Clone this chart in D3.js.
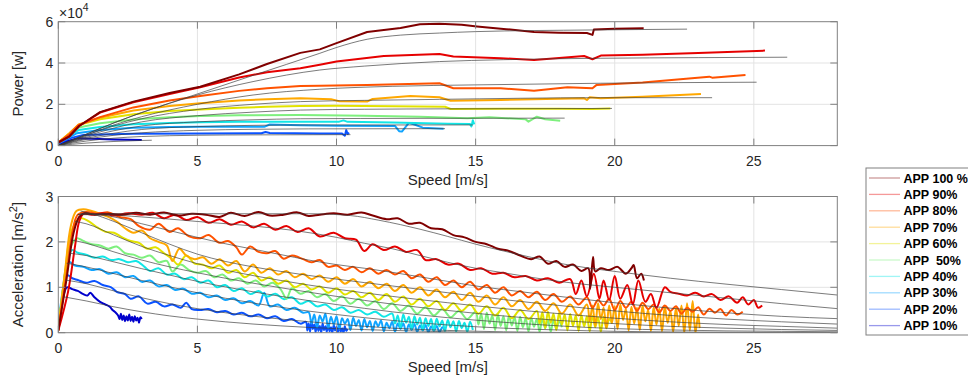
<!DOCTYPE html>
<html>
<head>
<meta charset="utf-8">
<script src="https://cdnjs.cloudflare.com/ajax/libs/d3/7.8.5/d3.min.js"></script>
<style>
  html, body { margin: 0; padding: 0; background: #fff; }
  svg { display: block; font-family: "Liberation Sans", Arial, Helvetica, sans-serif; }
</style>
</head>
<body>
<div id="chart"></div>
<script>
// ---- data ----
const appLabels = ["APP 100 %", "APP 90%", "APP 80%", "APP 70%", "APP 60%", "APP  50%", "APP 40%", "APP 30%", "APP 20%", "APP 10%"]
const appColors = ["#800000", "#e60000", "#ff5200", "#ffa800", "#e2e200", "#7ef07e", "#12e6e6", "#10a4ff", "#0a52ff", "#0000cc"]

const speedTicks = [0, 5, 10, 15, 20, 25]
const powerTicks = [0, 20000, 40000, 60000]
const accelTicks = [0, 1, 2, 3]

// measured power [W] vs speed [m/s]
const powerApp100 = [[0,1500],[0.4,4500],[0.75,9500],[1.5,16200],[2.7,21300],[4,25500],[5.1,28500],[6.5,34500],[7.5,39500],[8.7,44900],[9.4,46600],[10,49600],[11.1,55000],[12.3,56900],[13,58800],[13.7,59000],[14.5,58500],[15.05,57700],[16.1,56400],[17.1,55000],[18,54700],[19,54500],[19.2,53600],[19.25,56200],[20,56600],[21.04,56800]]
const powerApp90 = [[0,1500],[0.4,4500],[0.75,9500],[1.5,16000],[2.7,21000],[4,25000],[5.1,28300],[6.5,33000],[7.5,35500],[8.7,37500],[9.4,39200],[10,40700],[11.7,43400],[13.7,44400],[14.2,43100],[15.9,42300],[17.1,41500],[18.9,43400],[19.2,41800],[19.5,43600],[21,44000],[23,44800],[25.4,46000]]
const powerApp80 = [[0,1500],[0.4,5500],[0.73,10000],[1.5,13800],[2.7,18500],[4,21800],[5.1,24000],[6.5,26500],[7.5,27800],[8.7,28900],[9.4,29000],[11.1,29400],[13.7,30200],[14.2,27800],[15.9,27800],[17.1,26600],[18.3,28300],[19.2,27800],[19.35,29400],[21,30500],[23.4,33400],[23.5,32900],[24.7,34200]]
const powerApp70 = [[0,1500],[0.4,6000],[0.73,10200],[1.5,13500],[2.7,17000],[4,19200],[5.1,20500],[6.5,21800],[7.5,22500],[8.7,22900],[9.8,22500],[10.1,21500],[11.1,21300],[11.3,22600],[12.65,24000],[13.7,23400],[14.1,21700],[15.9,22100],[18.9,22900],[19,22100],[19.1,23400],[19.5,22900],[21,23600],[23.1,25000]]
const powerApp60 = [[0,1500],[0.4,6000],[0.73,10000],[1.5,12800],[2.7,15200],[4,16800],[5.1,17500],[6.5,18300],[7.5,18800],[8.7,19200],[10,19300],[12,19100],[13.9,18800],[14.1,17700],[16,17800],[18,17900],[19.2,17700],[19.84,18000]]
const powerApp50 = [[0,1500],[0.4,5500],[0.73,8800],[1.5,10800],[2.7,12600],[4,13700],[5.1,14300],[6.5,14700],[8.7,14800],[11,14500],[13,14000],[14.7,13200],[15.5,13700],[16.8,12700],[16.9,11600],[17.2,14000],[17.5,12800],[18.04,12000]]
const powerApp40 = [[0,1500],[0.4,5000],[0.73,7500],[1.5,9000],[2.7,10300],[4,11000],[5.1,11300],[6.5,11500],[8.7,11600],[10.1,11600],[10.25,12200],[10.4,11500],[12,11200],[14,10600],[14.8,10400],[14.85,9300],[14.9,12300],[14.95,10300]]
const powerApp30 = [[0,1200],[0.4,4000],[0.67,6000],[1.5,7500],[2.7,8600],[4,9000],[5.1,9100],[7.4,9100],[7.6,10200],[8.7,9800],[10,9600],[12.1,9500],[12.25,7000],[12.35,6800],[12.45,8500],[12.6,11000],[12.8,10200],[13.1,8700],[13.85,8200]]
const powerApp20 = [[0,1000],[0.4,3500],[0.9,5100],[1.5,5400],[2.7,5700],[5.1,5900],[7.3,6000],[7.45,6600],[7.6,6100],[9.4,5900],[10.2,5800],[10.3,4800],[10.35,7500],[10.4,5600],[10.45,6300]]
const powerApp10 = [[0,800],[0.4,2500],[0.67,3500],[1.2,3300],[2,3000],[3,2700]]

// model power [W] vs speed [m/s]
const powerModel100 = [[0,0],[1,5500],[2,11000],[3,16000],[5,25000],[7,34000],[9.4,44700],[10,47500],[11.1,51500],[12.3,53500],[13.7,54500],[15,55200],[19.2,56000],[22.6,56400]]
const powerModel90 = [[0,0],[1,5500],[2,11000],[3,16000],[5,24500],[7,31000],[9.4,36600],[11,38500],[13.7,40700],[16,41600],[19.5,42300],[23,42600],[26.2,42800]]
const powerModel80 = [[0,0],[1,5000],[2,10000],[3,14000],[5,20000],[7,24500],[9.4,27300],[12,28700],[15,29400],[19.5,30200],[25.1,30700]]
const powerModel70 = [[0,0],[1,5000],[2,9500],[3,13000],[5,17500],[7,20000],[8.7,21300],[11,21900],[13.7,22400],[19.5,23200],[23.5,23200]]
const powerModel60 = [[0,0],[1,4500],[2,8500],[3,11500],[5,14500],[7,16200],[8.7,17200],[11,17600],[14,17800],[19.9,18000]]
const powerModel50 = [[0,0],[1,4000],[2,7200],[3,9500],[5,11500],[7,12500],[8.7,13000],[13,13200],[18.2,13300]]
const powerModel40 = [[0,0],[1,3500],[2,6000],[3,7800],[5,9200],[7,9800],[9,10000],[14.9,10000]]
const powerModel30 = [[0,0],[1,3000],[2,5000],[3,6200],[5,7400],[7,7900],[9,8100],[13.9,8200]]
const powerModel20 = [[0,0],[1,2200],[2,3600],[3,4400],[5,5000],[7,5200],[10.5,5300]]
const powerModel10 = [[0,0],[1,1200],[2,2000],[3,2500],[3.36,2600]]

// measured acceleration [m/s^2] vs speed [m/s]
const accelApp100 = [[0,0.05],[0.3,1.2],[0.55,2.2],[0.75,2.55],[0.95,2.63],[1.3,2.6],[1.8,2.62],[2.3,2.6],[2.8,2.64],[3.3,2.6],[3.8,2.65],[4.3,2.58],[4.8,2.62],[5.3,2.6],[5.8,2.55],[6.2,2.64],[6.7,2.57],[7.2,2.66],[7.6,2.58],[8.1,2.6],[8.6,2.65],[9,2.57],[9.4,2.6],[9.9,2.63],[10.4,2.6],[10.9,2.65],[11.3,2.58],[11.8,2.5],[12.2,2.52],[12.6,2.4],[13,2.42],[13.4,2.3],[13.8,2.28],[14.2,2.15],[14.6,2.1],[15,2],[15.4,1.95],[15.8,1.85],[16.2,1.8],[16.6,1.7],[17,1.62],[17.3,1.68],[17.6,1.52],[17.9,1.58],[18.2,1.45],[18.5,1.5],[18.8,1.36],[19.05,1.42],[19.12,0.97],[19.22,1.67],[19.3,1.35],[19.5,1.42],[19.8,1.38],[20.1,1.45],[20.4,1.3],[20.6,1.42],[20.68,1.49],[20.8,1.2],[20.95,1.3],[21.05,1.15]]
const accelApp90 = [[0,0.05],[0.35,0.9],[0.6,1.9],[0.75,2.45],[0.9,2.62],[1.2,2.6],[1.6,2.63],[2,2.58],[2.5,2.63],[3,2.6],[3.4,2.64],[3.8,2.52],[4.2,2.6],[4.6,2.48],[5,2.55],[5.4,2.42],[5.8,2.5],[6.2,2.38],[6.6,2.45],[7,2.32],[7.4,2.4],[7.8,2.27],[8.2,2.35],[8.6,2.22],[9,2.3],[9.4,2.12],[9.9,2.2],[10.3,2.08],[10.7,2.05],[11,1.8],[11.3,1.95],[11.7,1.82],[12.1,1.9],[12.5,1.78],[12.9,1.82],[13.2,1.6],[13.6,1.62],[14,1.5],[14.4,1.52],[14.8,1.38],[15.2,1.42],[15.6,1.3],[16,1.32],[16.4,1.22],[16.8,1.25],[17.2,1.15],[17.6,1.2],[18,1.1],[18.4,1.18],[18.6,0.85],[18.8,1.15],[19,0.8],[19.25,1.3],[19.45,0.75],[19.6,1.15],[19.8,0.72],[20,1.25],[20.2,0.75],[20.45,1.05],[20.65,0.62],[20.85,1.15],[21.1,0.68],[21.3,0.85],[21.5,0.55],[21.8,1],[22,0.9],[22.3,0.86],[22.6,0.82],[22.9,0.88],[23.2,0.8],[23.5,0.85],[23.8,0.72],[24.1,0.8],[24.4,0.66],[24.6,0.78],[24.8,0.62],[25,0.72],[25.15,0.55],[25.3,0.6]]
const accelApp80 = [[0,0.05],[0.3,1.3],[0.5,2.2],[0.7,2.6],[1,2.66],[1.4,2.62],[1.8,2.65],[2.2,2.55],[2.6,2.5],[2.9,2.35],[3.3,2.27],[3.6,2.4],[4,2.22],[4.3,2.3],[4.7,2.12],[5.1,2.08],[5.4,2.15],[5.8,1.98],[6.1,2.02],[6.4,1.88],[6.6,1.72],[6.9,1.9],[7.2,1.78],[7.5,1.75],[7.8,1.8],[8.1,1.63],[8.4,1.7],[8.8,1.62],[9.1,1.55],[9.4,1.6],[9.7,1.45],[10,1.48],[10.3,1.38],[10.6,1.45],[10.9,1.33],[11.2,1.42],[11.5,1.3],[11.8,1.38],[12.1,1.28],[12.4,1.36],[12.7,1.2],[13,1.28],[13.3,1.12],[13.6,1.22],[13.9,1.05],[14.2,1.15],[14.5,1],[14.8,1.12],[15.1,0.95],[15.4,1.05],[15.7,0.88],[16,1],[16.3,0.82],[16.6,0.92],[16.9,0.78],[17.2,0.9],[17.5,0.72],[17.8,0.85],[18.1,0.68],[18.4,0.8],[18.7,0.62],[19,0.78],[19.2,0.55],[19.4,0.72],[19.6,0.6],[19.8,0.75],[20,0.5],[20.2,0.7],[20.4,0.55],[20.6,0.68],[20.8,0.48],[21,0.66],[21.2,0.52],[21.4,0.62],[21.6,0.45],[21.8,0.6],[22,0.48],[22.2,0.58],[22.4,0.42],[22.6,0.55],[22.8,0.46],[23,0.56],[23.2,0.4],[23.4,0.53],[23.6,0.44],[23.8,0.52],[24,0.38],[24.2,0.5],[24.4,0.4],[24.6,0.46]]
const accelApp70 = [[0,0.05],[0.25,1.4],[0.45,2.35],[0.65,2.68],[0.9,2.72],[1.2,2.68],[1.5,2.62],[1.8,2.55],[2.1,2.45],[2.4,2.3],[2.7,2.2],[3,2.25],[3.3,2.08],[3.6,2],[3.9,1.92],[4.1,1.58],[4.35,1.85],[4.6,1.7],[4.9,1.62],[5.2,1.66],[5.5,1.52],[5.8,1.62],[6.1,1.48],[6.4,1.58],[6.7,1.35],[7,1.5],[7.3,1.32],[7.6,1.42],[7.9,1.28],[8.2,1.36],[8.5,1.22],[8.8,1.3],[9.1,1.18],[9.4,1.26],[9.7,1.12],[10,1.22],[10.3,1.08],[10.6,1.18],[10.9,1.02],[11.2,1.12],[11.5,0.98],[11.8,1.08],[12.1,0.92],[12.4,1.05],[12.7,0.88],[13,1],[13.3,0.82],[13.6,0.95],[13.9,0.78],[14.2,0.9],[14.5,0.72],[14.8,0.88],[15.1,0.68],[15.4,0.82],[15.7,0.62],[16,0.78],[16.3,0.58],[16.6,0.72],[16.9,0.52],[17.2,0.68],[17.5,0.48],[17.8,0.65],[18.1,0.42],[18.4,0.62],[18.7,0.38],[19,0.62],[19.1,0.25],[19.2,0.6],[19.3,0.15],[19.4,0.65],[19.5,0.3],[19.6,0.55],[19.7,0.1],[19.8,0.6],[19.9,0.22],[20,0.58],[20.1,0.08],[20.2,0.62],[20.3,0.28],[20.4,0.52],[20.5,0.05],[20.6,0.57],[20.7,0.2],[20.8,0.55],[20.9,0.06],[21,0.6],[21.1,0.25],[21.2,0.5],[21.3,0.04],[21.4,0.56],[21.5,0.18],[21.6,0.53],[21.7,0.03],[21.8,0.58],[21.9,0.22],[22,0.48],[22.1,0.02],[22.2,0.55],[22.3,0.15],[22.4,0.6],[22.5,0],[22.6,0.65],[22.7,0.05],[22.8,0.7],[22.9,0],[23,0.4],[23.05,0.1]]
const accelApp60 = [[0,0.05],[0.25,1.35],[0.45,2.2],[0.7,2.48],[0.85,2.52],[1.1,2.45],[1.4,2.32],[1.7,2.22],[2,2.2],[2.3,2.1],[2.6,2.02],[2.9,1.98],[3.2,1.85],[3.5,1.88],[3.8,1.75],[4.1,1.62],[4.3,1.5],[4.6,1.7],[4.9,1.52],[5.2,1.5],[5.5,1.42],[5.8,1.48],[6.1,1.32],[6.4,1.38],[6.7,1.22],[7,1.32],[7.3,1.15],[7.6,1.22],[7.9,1.08],[8.2,1.15],[8.5,1],[8.8,1.08],[9.1,0.95],[9.4,1.02],[9.7,0.88],[10,0.98],[10.3,0.84],[10.6,0.92],[10.9,0.78],[11.2,0.88],[11.5,0.72],[11.8,0.85],[12.1,0.68],[12.4,0.8],[12.7,0.62],[13,0.75],[13.3,0.58],[13.6,0.7],[13.9,0.5],[14.2,0.65],[14.5,0.48],[14.8,0.62],[15.1,0.42],[15.4,0.58],[15.7,0.38],[16,0.55],[16.3,0.32],[16.6,0.5],[16.9,0.3],[17.2,0.48],[17.3,0.2],[17.4,0.45],[17.5,0.1],[17.6,0.46],[17.7,0.22],[17.8,0.42],[17.9,0.06],[18,0.44],[18.1,0.18],[18.2,0.4],[18.3,0.05],[18.4,0.41],[18.5,0.15],[18.6,0.38],[18.7,0.04],[18.8,0.39],[18.9,0.14],[19,0.36],[19.1,0.03],[19.2,0.37],[19.3,0.12],[19.4,0.34],[19.5,0.02],[19.6,0.35],[19.7,0.1],[19.8,0.3],[19.9,0.2]]
const accelApp50 = [[0,0.05],[0.2,1.1],[0.45,1.9],[0.67,2.08],[0.9,2.02],[1.2,1.95],[1.5,1.92],[1.8,1.85],[2.1,1.9],[2.4,1.75],[2.7,1.72],[3,1.65],[3.3,1.7],[3.6,1.55],[3.9,1.58],[4.1,1.35],[4.4,1.5],[4.7,1.38],[5,1.32],[5.3,1.36],[5.6,1.22],[5.9,1.28],[6.2,1.15],[6.5,1.2],[6.8,1.08],[7.1,1.15],[7.4,1.02],[7.7,1.1],[8,0.95],[8.2,0.75],[8.4,0.98],[8.7,0.86],[9,0.92],[9.3,0.78],[9.6,0.85],[9.9,0.7],[10.2,0.8],[10.5,0.64],[10.8,0.75],[11.1,0.6],[11.4,0.7],[11.7,0.52],[12,0.65],[12.3,0.48],[12.6,0.6],[12.9,0.42],[13.2,0.56],[13.5,0.38],[13.8,0.52],[14.1,0.34],[14.4,0.48],[14.7,0.3],[15,0.46],[15.1,0.18],[15.2,0.42],[15.3,0.08],[15.4,0.44],[15.5,0.2],[15.6,0.38],[15.7,0.06],[15.8,0.4],[15.9,0.15],[16,0.36],[16.1,0.05],[16.2,0.38],[16.3,0.16],[16.4,0.34],[16.5,0.04],[16.6,0.35],[16.7,0.12],[16.8,0.32],[16.9,0.03],[17,0.33],[17.1,0.13],[17.2,0.3],[17.3,0.02],[17.4,0.31],[17.5,0.1],[17.6,0.28],[17.7,0.02],[17.8,0.29],[17.9,0.08],[18,0.25],[18.1,0.12]]
const accelApp40 = [[0,0.1],[0.2,1],[0.49,1.82],[0.7,1.76],[1,1.72],[1.3,1.65],[1.6,1.68],[1.9,1.6],[2.2,1.62],[2.5,1.55],[2.8,1.58],[3.1,1.45],[3.3,1.36],[3.6,1.42],[3.9,1.28],[4.2,1.3],[4.5,1.18],[4.8,1.22],[5.1,1.1],[5.4,1.15],[5.7,1],[6,1.05],[6.3,0.92],[6.6,0.98],[6.9,0.85],[7.2,0.92],[7.5,0.8],[7.8,0.86],[8.1,0.74],[8.4,0.78],[8.7,0.64],[9,0.7],[9.3,0.58],[9.6,0.62],[9.9,0.5],[10.2,0.56],[10.5,0.44],[10.8,0.5],[11.1,0.4],[11.4,0.46],[11.7,0.35],[12,0.42],[12.1,0.2],[12.2,0.38],[12.3,0.1],[12.4,0.4],[12.5,0.22],[12.6,0.35],[12.7,0.08],[12.8,0.36],[12.9,0.18],[13,0.33],[13.1,0.06],[13.2,0.32],[13.3,0.15],[13.4,0.3],[13.5,0.05],[13.6,0.31],[13.7,0.14],[13.8,0.27],[13.9,0.04],[14,0.28],[14.1,0.12],[14.2,0.25],[14.3,0.03],[14.4,0.26],[14.5,0.1],[14.6,0.22],[14.7,0.02],[14.8,0.24],[14.9,0.06]]
const accelApp30 = [[0,0.1],[0.15,0.9],[0.37,1.56],[0.6,1.48],[0.9,1.45],[1.2,1.38],[1.5,1.4],[1.8,1.3],[2.1,1.33],[2.4,1.22],[2.7,1.25],[3,1.12],[3.3,1.15],[3.6,1.02],[3.9,1.05],[4.2,0.94],[4.5,0.97],[4.8,0.86],[5.1,0.88],[5.4,0.78],[5.7,0.82],[6,0.72],[6.3,0.76],[6.6,0.65],[6.9,0.7],[7.2,0.6],[7.4,0.88],[7.6,0.58],[7.9,0.62],[8.2,0.5],[8.5,0.55],[8.8,0.44],[9,0.45],[9.1,0.2],[9.2,0.4],[9.3,0.12],[9.4,0.38],[9.5,0.25],[9.6,0.42],[9.7,0.1],[9.8,0.35],[9.9,0.18],[10,0.36],[10.1,0.08],[10.2,0.32],[10.3,0.2],[10.4,0.3],[10.5,0.06],[10.6,0.33],[10.7,0.15],[10.8,0.28],[10.9,0.05],[11,0.3],[11.1,0.12],[11.2,0.26],[11.3,0.04],[11.4,0.25],[11.5,0.14],[11.6,0.27],[11.7,0.03],[11.8,0.22],[11.9,0.1],[12,0.24],[12.1,0.02],[12.2,0.2],[12.3,0.08],[12.4,0.21],[12.5,0.01],[12.6,0.18],[12.7,0.06],[12.8,0.19],[12.9,0.02],[13,0.16],[13.1,0.05],[13.2,0.17],[13.3,0.01],[13.4,0.14],[13.5,0.04],[13.6,0.15],[13.7,0.01],[13.8,0.12],[13.9,0.05]]
const accelApp20 = [[0,0.1],[0.15,0.8],[0.31,1.27],[0.5,1.2],[0.7,1.16],[1,1.1],[1.3,1.14],[1.6,1.05],[1.9,1],[2.1,0.9],[2.4,0.85],[2.6,0.75],[2.9,0.8],[3.2,0.64],[3.5,0.68],[3.8,0.58],[4.1,0.62],[4.4,0.55],[4.6,0.66],[4.8,0.52],[5.1,0.5],[5.4,0.52],[5.7,0.45],[6,0.48],[6.3,0.4],[6.6,0.44],[6.9,0.36],[7.2,0.4],[7.5,0.32],[7.8,0.36],[8.1,0.26],[8.4,0.3],[8.7,0.2],[8.9,0.24],[8.95,0.05],[9,0.2],[9.05,0.02],[9.1,0.26],[9.15,0.08],[9.2,0.18],[9.25,0.01],[9.3,0.22],[9.35,0.04],[9.4,0.15],[9.45,0],[9.5,0.2],[9.55,0.06],[9.6,0.14],[9.65,0.02],[9.7,0.19],[9.75,0.03],[9.8,0.12],[9.85,0],[9.9,0.17],[9.95,0.05],[10,0.13],[10.05,0.01],[10.1,0.16],[10.15,0.02],[10.2,0.1],[10.25,0],[10.3,0.14],[10.35,0.04],[10.4,0.08]]
const accelApp10 = [[0,0.05],[0.15,0.7],[0.31,1],[0.5,0.96],[0.7,0.92],[0.9,0.85],[1.05,0.82],[1.15,0.88],[1.3,0.78],[1.5,0.68],[1.7,0.62],[1.85,0.57],[1.95,0.5],[2.05,0.45],[2.15,0.38],[2.2,0.3],[2.25,0.42],[2.3,0.28],[2.35,0.38],[2.4,0.25],[2.45,0.36],[2.5,0.27],[2.55,0.4],[2.6,0.26],[2.65,0.35],[2.7,0.24],[2.75,0.36],[2.8,0.27],[2.85,0.33],[2.9,0.22],[2.95,0.34],[3,0.3]]

// model acceleration [m/s^2] vs speed [m/s]
const accelModel100 = [[0.7,2.6],[1,2.62],[3,2.62],[6,2.62],[9,2.62],[10.5,2.58],[11.5,2.48],[12.3,2.38],[13,2.28],[14,2.12],[15,1.95],[16,1.8],[17,1.66],[18,1.53],[19,1.43],[20,1.35],[22,1.2],[24,1.07],[26,0.95],[28,0.83]]
const accelModel90 = [[0.7,2.6],[1.5,2.6],[3,2.55],[5,2.45],[7,2.35],[8.5,2.25],[10,2.1],[11,1.97],[12,1.85],[13,1.7],[14,1.55],[15,1.42],[16,1.32],[17,1.22],[18,1.13],[19,1.06],[20,1],[22,0.88],[24,0.76],[26,0.64],[28,0.53]]
const accelModel80 = [[0.8,2.62],[1.5,2.6],[2,2.55],[3,2.4],[4,2.25],[5,2.1],[6,1.96],[7,1.84],[8,1.72],[9,1.6],[10,1.5],[11,1.42],[12,1.33],[13,1.23],[14,1.13],[15,1.03],[16,0.95],[18,0.8],[20,0.66],[22,0.54],[24,0.44],[26,0.36],[28,0.31]]
const accelModel70 = [[0.8,2.68],[1.2,2.62],[2,2.45],[3,2.2],[4,1.95],[5,1.73],[6,1.57],[7,1.45],[8,1.35],[10,1.18],[12,1.03],[14,0.88],[16,0.73],[18,0.6],[20,0.48],[22,0.38],[24,0.3],[26,0.24],[28,0.19]]
const accelModel60 = [[0.6,2.45],[1,2.4],[2,2.15],[3,1.9],[4,1.7],[5,1.52],[6,1.38],[8,1.15],[10,0.96],[12,0.8],[14,0.66],[16,0.53],[18,0.42],[20,0.32],[22,0.24],[24,0.18],[26,0.14],[28,0.1]]
const accelModel50 = [[0.5,2.04],[1,1.97],[2,1.78],[3,1.6],[4,1.45],[5,1.32],[6,1.2],[8,0.99],[10,0.8],[12,0.63],[14,0.49],[16,0.37],[18,0.27],[20,0.2],[22,0.14],[24,0.1],[26,0.07],[28,0.05]]
const accelModel40 = [[0.4,1.75],[1,1.7],[2,1.56],[3,1.41],[4,1.27],[5,1.13],[6,1.01],[8,0.8],[10,0.62],[12,0.46],[14,0.33],[16,0.23],[18,0.15],[20,0.09],[22,0.06],[24,0.04],[26,0.03],[28,0.02]]
const accelModel30 = [[0.3,1.53],[1,1.45],[2,1.3],[3,1.15],[4,1.01],[5,0.88],[6,0.76],[8,0.56],[10,0.4],[12,0.27],[14,0.17],[16,0.1],[18,0.06],[20,0.03],[24,0.01],[28,0]]
const accelModel20 = [[0.25,1.16],[1,1.08],[2,0.92],[3,0.77],[4,0.64],[5,0.53],[6,0.44],[8,0.3],[10,0.19],[12,0.1],[14,0.05],[16,0.02],[20,0],[28,0]]
const accelModel10 = [[0.2,0.79],[1,0.7],[2,0.57],[3,0.46],[4,0.37],[5,0.3],[6,0.24],[8,0.15],[10,0.09],[12,0.05],[14,0.02],[16,0],[28,0]]

const powerData = [powerApp100, powerApp90, powerApp80, powerApp70, powerApp60, powerApp50, powerApp40, powerApp30, powerApp20, powerApp10]
const powerModels = [powerModel100, powerModel90, powerModel80, powerModel70, powerModel60, powerModel50, powerModel40, powerModel30, powerModel20, powerModel10]
const accelData = [accelApp100, accelApp90, accelApp80, accelApp70, accelApp60, accelApp50, accelApp40, accelApp30, accelApp20, accelApp10]
const accelModels = [accelModel100, accelModel90, accelModel80, accelModel70, accelModel60, accelModel50, accelModel40, accelModel30, accelModel20, accelModel10]

// ---- drawing ----
const W = 968, H = 383
const axisCol = "#262626", gridCol = "#e3e3e3", boxCol = "#808080"
const left = 58.3, right = 837.3

const svg = d3.select("#chart").append("svg").attr("width", W).attr("height", H)
svg.append("rect").attr("width", W).attr("height", H).attr("fill", "#fff")

function panel(id, top, bottom, yDomain, yTicks, yFmt, data, models, dataCurve, yLabel) {
  const x = d3.scaleLinear().domain([0, 28]).range([left, right])
  const y = d3.scaleLinear().domain(yDomain).range([bottom, top])
  const g = svg.append("g")

  // grid
  g.selectAll(".gx").data(speedTicks.slice(1)).join("line")
    .attr("x1", d => x(d)).attr("x2", d => x(d)).attr("y1", top).attr("y2", bottom)
    .attr("stroke", gridCol).attr("stroke-width", 1)
  g.selectAll(".gy").data(yTicks.slice(1, -1)).join("line")
    .attr("y1", d => y(d)).attr("y2", d => y(d)).attr("x1", left).attr("x2", right)
    .attr("stroke", gridCol).attr("stroke-width", 1)

  svg.append("clipPath").attr("id", id).append("rect")
    .attr("x", left).attr("y", top).attr("width", right - left).attr("height", bottom - top)
  const plot = g.append("g").attr("clip-path", `url(#${id})`)
  const line = d3.line().x(d => x(d[0])).y(d => y(d[1])).curve(dataCurve)
  const smooth = d3.line().x(d => x(d[0])).y(d => y(d[1])).curve(d3.curveMonotoneX)

  // measured curves, lowest APP first so high APP is on top
  data.slice().reverse().forEach((s, i) => {
    const k = data.length - 1 - i
    plot.append("path").datum(s).attr("d", line)
      .attr("fill", "none").attr("stroke", appColors[k]).attr("stroke-width", 2)
      .attr("stroke-linejoin", "round")
  })
  models.forEach(s => {
    plot.append("path").datum(s).attr("d", smooth)
      .attr("fill", "none").attr("stroke", "#3c3c3c").attr("stroke-opacity", 0.85).attr("stroke-width", 0.8)
  })

  // box + inward ticks
  g.append("rect").attr("x", left).attr("y", top).attr("width", right - left).attr("height", bottom - top)
    .attr("fill", "none").attr("stroke", boxCol).attr("stroke-width", 1)
  const tl = 7
  speedTicks.forEach(t => {
    g.append("line").attr("x1", x(t)).attr("x2", x(t)).attr("y1", bottom).attr("y2", bottom - tl).attr("stroke", boxCol)
    g.append("line").attr("x1", x(t)).attr("x2", x(t)).attr("y1", top).attr("y2", top + tl).attr("stroke", boxCol)
  })
  yTicks.forEach(t => {
    g.append("line").attr("y1", y(t)).attr("y2", y(t)).attr("x1", left).attr("x2", left + tl).attr("stroke", boxCol)
    g.append("line").attr("y1", y(t)).attr("y2", y(t)).attr("x1", right).attr("x2", right - tl).attr("stroke", boxCol)
  })

  // tick labels
  g.selectAll(".xl").data(speedTicks).join("text")
    .attr("x", d => x(d)).attr("y", bottom + 20.5).attr("text-anchor", "middle")
    .attr("font-size", 14).attr("fill", axisCol).text(d => d)
  g.selectAll(".yl").data(yTicks).join("text")
    .attr("x", left - 5).attr("y", d => y(d) + 5).attr("text-anchor", "end")
    .attr("font-size", 14).attr("fill", axisCol).text(yFmt)

  g.append("text").attr("x", (left + right) / 2).attr("y", bottom + 39)
    .attr("text-anchor", "middle").attr("font-size", 15).attr("fill", axisCol).text("Speed [m/s]")
  const yl = g.append("text").attr("transform", `translate(23,${(top + bottom) / 2}) rotate(-90)`)
    .attr("text-anchor", "middle").attr("font-size", 15).attr("fill", axisCol)
  yLabel(yl)
  return { x, y }
}

panel("clipTop", 21.7, 145.6, [0, 60000], powerTicks, d => d / 10000, powerData, powerModels, d3.curveLinear,
  t => t.text("Power [w]"))
panel("clipBot", 196.5, 332.7, [0, 3], accelTicks, d => d, accelData, accelModels, d3.curveCatmullRom.alpha(0.5),
  t => { t.append("tspan").text("Acceleration [m/s"); t.append("tspan").attr("dy", -6).attr("font-size", 11).text("2"); t.append("tspan").attr("dy", 6).text("]") })

// exponent label
const ex = svg.append("text").attr("x", 59).attr("y", 18).attr("font-size", 14).attr("fill", axisCol)
ex.append("tspan").text("\u00d710")
ex.append("tspan").attr("dy", -7).attr("font-size", 10.5).text("4")

// legend
const lg = svg.append("g")
lg.append("rect").attr("x", 866).attr("y", 168).attr("width", 120).attr("height", 167)
  .attr("fill", "#fff").attr("stroke", boxCol).attr("stroke-width", 1)
appLabels.forEach((lab, i) => {
  const cy = 178 + i * 16.4
  lg.append("line").attr("x1", 869).attr("x2", 900).attr("y1", cy).attr("y2", cy)
    .attr("stroke", appColors[i]).attr("stroke-opacity", 0.4).attr("stroke-width", 1.3)
  lg.append("text").attr("x", 903.5).attr("y", cy + 4.5).attr("font-size", 12.5).attr("font-weight", "bold")
    .attr("fill", "#000").style("white-space", "pre").text(lab)
})
</script>
</body>
</html>
